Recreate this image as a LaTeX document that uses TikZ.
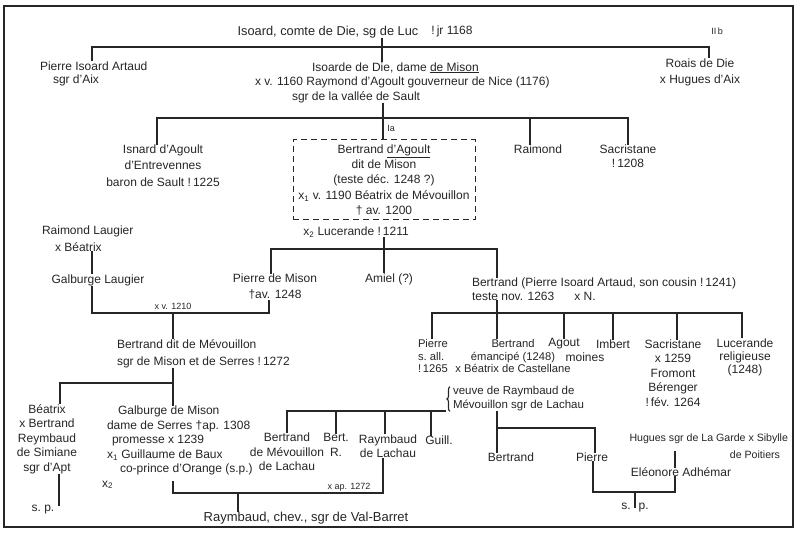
\documentclass[tikz,border=0pt]{standalone}
\usepackage{fontspec}
\setmainfont{Liberation Sans}
\usetikzlibrary{decorations.pathreplacing}
\begin{document}
\begin{tikzpicture}[x=1pt,y=-1pt,
  every node/.style={inner sep=0pt, outer sep=0pt, text=black!85},
  ls/.style={font=\fontsize{12}{#1}\selectfont},
  pc/.style={ls=#1, align=center}, pc/.default=14.5,
  pl/.style={ls=#1, align=left, anchor=west}, pl/.default=14.5,
  tag/.style={font=\fontsize{9}{11}\selectfont},
  lk/.style={line width=1.1pt, black!85},
]
\useasboundingbox (0,0) rectangle (800,534);
\fill[white] (0,0) rectangle (800,534);
\draw[line width=1.8pt, black!85] (4,6) rectangle (793,527);

% ---------- nodes ----------
\node[pc, font=\fontsize{12.8}{15}\selectfont] (isoard) at (328,32) {Isoard, comte de Die, sg de Luc};
\node[pc] (jr) at (452,31) {!\,jr 1168};
\node[tag] (IIb) at (717,31) {II\,b};
\node[pl=13] (pierreIA) at (40,73.5) {Pierre Isoard Artaud\\\hspace*{13pt}sgr d'Aix};
\node[pl] (isoarde) at (255,82.5) {\hspace*{57pt}Isoarde de Die, dame \underline{de Mison}\\x v. 1160 Raymond d'Agoult gouverneur de Nice (1176)\\\hspace*{37pt}sgr de la vallée de Sault};
\node[pc=16] (roais) at (700,72) {Roais de Die\\x Hugues d'Aix};

\node[pc=16.5] (isnard) at (163,165.5) {Isnard d'Agoult\\d'Entrevennes\\baron de Sault !\,1225};
\node[pc=15.3, draw=black!85, line width=1pt, dash pattern=on 6pt off 4pt, minimum width=182pt, minimum height=80pt] (bA) at (384,180) {Bertrand \underline{d'Agoult}\\dit de Mison\\(teste déc. 1248 ?)\\x\textsubscript{1} v. 1190 Béatrix de Mévouillon\\† av. 1200};
\node[pc] (x2luc) at (356,232) {x\textsubscript{2} Lucerande !\,1211};
\node[pc] (raimond) at (538,149) {Raimond};
\node[pc=14] (sac1) at (628,156) {Sacristane\\!\,1208};
\node[tag] (Ia) at (391,128) {Ia};

\node[pl=16.5] (raimondL) at (42,238.5) {Raimond Laugier\\\hspace*{13pt}x Béatrix};
\node[pc] (galburgeL) at (98,280) {Galburge Laugier};
\node[pc=16] (pierreM) at (275,287) {Pierre de Mison\\†av. 1248};
\node[pc] (amiel) at (389,279) {Amiel (?)};
\node[pl=14] (bertrand2) at (472,289) {Bertrand (Pierre Isoard Artaud, son cousin !\,1241)\\teste nov. 1263\hspace{20pt}x N.};
\node[tag] (xv1210) at (173,306) {x v. 1210};

\node[pl=17] (bertrandM) at (117,353.5) {Bertrand dit de Mévouillon\\sgr de Mison et de Serres !\,1272};
\node[pl=12.5, font=\fontsize{11.2}{12.5}\selectfont] (pierre3) at (418,356) {Pierre\\s.~all.\\!\,1265};
\node[pc=12.5, font=\fontsize{11.2}{12.5}\selectfont] (bertrand3) at (513,356) {Bertrand\\émancipé (1248)\\x Béatrix de Castellane};
\node[pl=14, font=\fontsize{11.5}{14}\selectfont] (veuve) at (453,399) {veuve de Raymbaud de\\Mévouillon sgr de Lachau};
\node[pc] (agout) at (564,344) {Agout};
\node[pc] (imbert) at (613,344) {Imbert};
\node[pc] (moines) at (585,357) {moines};
\node[pc=14.5] (sac2) at (673,373) {Sacristane\\x 1259\\Fromont\\Bérenger\\!\,fév. 1264};
\node[pc=13] (lucerande) at (745,357) {Lucerande\\religieuse\\(1248)};

\node[pc] (beatrixS) at (47,439) {Béatrix\\x Bertrand\\Reymbaud\\de Simiane\\sgr d'Apt};
\node[pc] (spB) at (43,510) {s.~p.};
\node[pl] (galburgeM) at (102,447.5) {\hspace*{16pt}Galburge de Mison\\\hspace*{5pt}dame de Serres †ap. 1308\\\hspace*{10pt}promesse x 1239\\\hspace*{5pt}x\textsubscript{1} Guillaume de Baux\\\hspace*{18pt}co-prince d'Orange (s.p.)\\x\textsubscript{2}};
\node[pc] (bertrandML) at (287,452) {Bertrand\\de Mévouillon\\de Lachau};
\node[pc] (bertR) at (336,445) {Bert.\\R.};
\node[pc] (raymbaudL) at (388,446) {Raymbaud\\de Lachau};
\node[pc] (guill) at (439,440) {Guill.};
\node[pc] (bertrand4) at (511,457) {Bertrand};
\node[pc] (pierre4) at (592,457) {Pierre};
\node[ls=17, font=\fontsize{10.6}{17}\selectfont, align=right, anchor=east] (hugues) at (788,446.5) {Hugues sgr de La Garde x Sibylle\\de Poitiers\hspace*{8pt}};
\node[pc] (eleonore) at (681,472) {Eléonore Adhémar};
\node[pc] (sp2) at (635,508) {s.\hspace{8pt}p.};
\node[tag] (xap1272) at (349,487) {x ap. 1272};
\node[pc, font=\fontsize{13}{15}\selectfont] (raymbaudVB) at (306,518) {Raymbaud, chev., sgr de Val-Barret};

% ---------- connectors ----------
\coordinate (a1) at (92,47); \coordinate (a2) at (382,47); \coordinate (a3) at (709,47);
\draw[lk] (a1 |- pierreIA.north) -- (a1) -- (a3) -- (a3 |- roais.north);
\draw[lk] (a2 |- isoard.south) -- (a2 |- isoarde.north);

\coordinate (b1) at (157,118); \coordinate (b2) at (383,118);
\coordinate (b3) at (530,118); \coordinate (b4) at (628,118);
\draw[lk] (b1 |- isnard.north) -- (b1) -- (b4) -- (b4 |- sac1.north);
\draw[lk] (b2 |- isoarde.south) -- (b2 |- bA.north);
\draw[lk] (b3) -- (b3 |- raimond.north);

\coordinate (c1) at (271,249); \coordinate (c2) at (384,249); \coordinate (c3) at (497,249);
\draw[lk] (c2 |- x2luc.south) -- (c2 |- amiel.north);
\draw[lk] (c1 |- pierreM.north) -- (c1) -- (c3) -- (c3 |- bertrand2.north);

\coordinate (d0) at (92,262);
\draw[lk] (d0 |- raimondL.south) -- (d0 |- galburgeL.north);
\coordinate (d1) at (92,313); \coordinate (d2) at (173,313); \coordinate (d3) at (269,313);
\draw[lk] (d1 |- galburgeL.south) -- (d1) -- (d3) -- (d3 |- pierreM.south);
\draw[lk] (d2) -- (d2 |- bertrandM.north);

\coordinate (e1) at (60,383); \coordinate (e2) at (173,383);
\draw[lk] (e2 |- bertrandM.south) -- (e2) -- (e1) -- (e1 |- beatrixS.north);
\draw[lk] (e2) -- (e2 |- galburgeM.north);

\coordinate (f0) at (497,313); \coordinate (f1) at (432,313); \coordinate (f3) at (564,313);
\coordinate (f4) at (613,313); \coordinate (f5) at (677,313); \coordinate (f6) at (742,313);
\draw[lk] (f0 |- bertrand2.south) -- (f0 |- bertrand3.north);
\draw[lk] (f1 |- pierre3.north) -- (f1) -- (f6) -- (f6 |- lucerande.north);
\draw[lk] (f3) -- (f3 |- agout.north);
\draw[lk] (f4) -- (f4 |- imbert.north);
\draw[lk] (f5) -- (f5 |- sac2.north);

\coordinate (g0) at (59,488);
\draw[lk] (g0 |- beatrixS.south) -- (g0 |- spB.north);

\coordinate (h0) at (173,481); \coordinate (h1) at (173,493);
\coordinate (h2) at (238,493); \coordinate (h3) at (383,493);
\draw[lk] (h0) -- (h1) -- (h3) -- (h3 |- raymbaudL.south);
\draw[lk] (h2) -- (h2 |- raymbaudVB.north);

\draw[lk, decorate, decoration={brace, amplitude=3pt}] ([xshift=-3pt]veuve.south west) -- ([xshift=-3pt]veuve.north west);
\coordinate (k0) at (446,411); \coordinate (k1) at (287,411); \coordinate (k2) at (336,411);
\coordinate (k3) at (385,411); \coordinate (k4) at (431,411);
\draw[lk] (k0) -- (k1) -- (k1 |- bertrandML.north);
\draw[lk] (k2) -- (k2 |- bertR.north);
\draw[lk] (k3) -- (k3 |- raymbaudL.north);
\draw[lk] (k4) -- (k4 |- guill.north);

\coordinate (m1) at (497,428); \coordinate (m2) at (595,428);
\draw[lk] (m1 |- veuve.south) -- (m1 |- bertrand4.north);
\draw[lk] (m1) -- (m2) -- (m2 |- pierre4.north);

\coordinate (n1) at (675,451);
\draw[lk] (n1) -- (n1 |- eleonore.north);
\coordinate (p1) at (593,492); \coordinate (p2) at (675,492); \coordinate (p3) at (635,492);
\draw[lk] (p1 |- pierre4.south) -- (p1) -- (p2) -- (p2 |- eleonore.south);
\draw[lk] (p3) -- (p3 |- sp2.center);
\end{tikzpicture}
\end{document}
